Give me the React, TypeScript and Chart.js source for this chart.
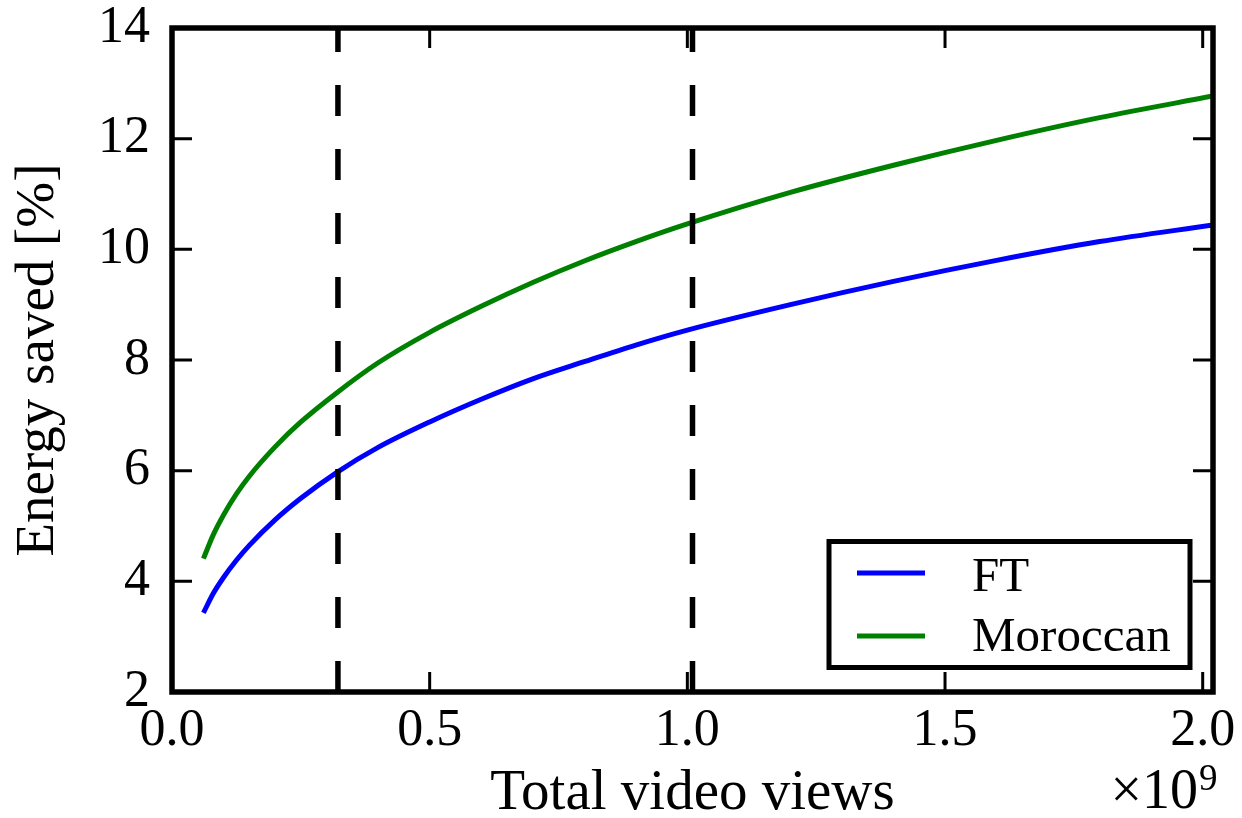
import React, { useEffect, useRef } from "react";
import { Chart, registerables } from "chart.js";

Chart.register(...registerables);

// ---- data (x in units of 10^9 views, y in %) ----
const xViews = [0.061, 0.08, 0.1, 0.125, 0.15, 0.2, 0.25, 0.32, 0.4, 0.5, 0.6, 0.7, 0.8, 0.9, 1.0, 1.2, 1.4, 1.6, 1.8, 2.02];
const ftSaved = [3.43, 3.78, 4.07, 4.38, 4.65, 5.11, 5.5, 5.97, 6.42, 6.88, 7.29, 7.66, 7.97, 8.27, 8.54, 9.0, 9.42, 9.8, 10.14, 10.44];
const moroccanSaved = [4.41, 4.84, 5.2, 5.58, 5.9, 6.43, 6.88, 7.41, 7.95, 8.5, 8.97, 9.4, 9.79, 10.14, 10.46, 11.03, 11.52, 11.97, 12.38, 12.77];
const markerViews = [0.322, 1.01];
const seriesLabels = ["FT", "Moroccan"];
const seriesColors = ["#0000ff", "#008000"];
const xTickValues = [0, 0.5, 1.0, 1.5, 2.0];
const yTickValues = [2, 4, 6, 8, 10, 12, 14];
const xRange = [0, 2.02];
const yRange = [2, 14];
const xTitle = "Total video views";
const yTitle = "Energy saved [%]";
const offsetBase = "\u00d710";
const offsetExp = "9";

const SERIF = '"Liberation Serif", "DejaVu Serif", serif';

const framePlugin = {
  id: "mplFrame",
  afterDatasetsDraw(chart: any) {
    const { ctx, chartArea: a, scales } = chart;
    ctx.save();
    // inward ticks on all four sides
    ctx.strokeStyle = "#000";
    ctx.lineWidth = 3;
    const tl = 20;
    scales.x.ticks.forEach((t: any) => {
      const px = scales.x.getPixelForValue(t.value);
      ctx.beginPath();
      ctx.moveTo(px, a.bottom);
      ctx.lineTo(px, a.bottom - tl);
      ctx.moveTo(px, a.top);
      ctx.lineTo(px, a.top + tl);
      ctx.stroke();
    });
    scales.y.ticks.forEach((t: any) => {
      const py = scales.y.getPixelForValue(t.value);
      ctx.beginPath();
      ctx.moveTo(a.left, py);
      ctx.lineTo(a.left + tl, py);
      ctx.moveTo(a.right, py);
      ctx.lineTo(a.right - tl, py);
      ctx.stroke();
    });
    // frame
    ctx.lineWidth = 5.5;
    ctx.strokeRect(a.left, a.top, a.right - a.left, a.bottom - a.top);

    // legend box
    const bw = 361;
    const bh = 126;
    const bx = a.right - 23 - bw;
    const by = a.bottom - 24.5 - bh;
    ctx.fillStyle = "#fff";
    ctx.fillRect(bx, by, bw, bh);
    ctx.strokeStyle = "#000";
    ctx.lineWidth = 5;
    ctx.strokeRect(bx, by, bw, bh);
    const items = chart.data.datasets.filter((d: any) => d.label);
    items.forEach((d: any, i: number) => {
      const ly = by + 31.5 + i * 63;
      ctx.strokeStyle = d.borderColor;
      ctx.lineWidth = 5;
      ctx.beginPath();
      ctx.moveTo(bx + 28, ly);
      ctx.lineTo(bx + 96, ly);
      ctx.stroke();
      ctx.fillStyle = "#000";
      ctx.font = `49px ${SERIF}`;
      ctx.textAlign = "left";
      ctx.textBaseline = "alphabetic";
      ctx.fillText(d.label, bx + 143, by + 49 + i * 60);
    });

    // offset text x10^9
    ctx.fillStyle = "#000";
    ctx.font = `56px ${SERIF}`;
    ctx.textAlign = "right";
    ctx.textBaseline = "alphabetic";
    ctx.fillText(offsetBase, a.right - 15, a.bottom + 116);
    ctx.font = `37px ${SERIF}`;
    ctx.textAlign = "left";
    ctx.fillText(offsetExp, a.right - 14, a.bottom + 98);
    ctx.restore();
  },
};

export default function App() {
  const ref = useRef<HTMLCanvasElement | null>(null);
  useEffect(() => {
    if (!ref.current) return;
    Chart.defaults.font.family = SERIF;
    Chart.defaults.color = "#000";
    const lineData = (ys: number[]) => xViews.map((x, i) => ({ x, y: ys[i] }));
    const markerSets = markerViews.map((m) => ({
      label: "",
      data: [
        { x: m, y: yRange[0] },
        { x: m, y: yRange[1] },
      ],
      borderColor: "#000",
      borderWidth: 5.5,
      borderDash: [31, 33],
      pointRadius: 0,
      tension: 0,
    }));
    const chart = new Chart(ref.current, {
      type: "line",
      data: {
        datasets: [
          ...markerSets,
          {
            label: seriesLabels[0],
            data: lineData(ftSaved),
            borderColor: seriesColors[0],
            borderWidth: 5,
            pointRadius: 0,
            cubicInterpolationMode: "monotone",
          },
          {
            label: seriesLabels[1],
            data: lineData(moroccanSaved),
            borderColor: seriesColors[1],
            borderWidth: 5,
            pointRadius: 0,
            cubicInterpolationMode: "monotone",
          },
        ],
      },
      options: {
        animation: false,
        responsive: false,
        layout: { padding: { top: 28, right: 29, left: 0, bottom: 0 } },
        plugins: {
          legend: { display: false },
          tooltip: { enabled: false },
        },
        scales: {
          x: {
            type: "linear",
            min: xRange[0],
            max: xRange[1],
            afterBuildTicks: (s: any) => {
              s.ticks = xTickValues.map((v) => ({ value: v }));
            },
            afterFit: (s: any) => {
              s.height = 126;
              s.paddingLeft = 0;
              s.paddingRight = 0;
            },
            grid: { display: false, drawTicks: false },
            border: { display: false },
            ticks: {
              padding: 8,
              maxRotation: 0,
              font: { size: 52 },
              color: "#000",
              callback: (v: any) => Number(v).toFixed(1),
            },
            title: {
              display: true,
              text: xTitle,
              font: { size: 57, lineHeight: 0.8 },
              padding: { top: 0, bottom: 1 },
              color: "#000",
            },
          },
          y: {
            type: "linear",
            min: yRange[0],
            max: yRange[1],
            afterBuildTicks: (s: any) => {
              s.ticks = yTickValues.map((v) => ({ value: v }));
            },
            afterFit: (s: any) => {
              s.width = 172;
              s.paddingTop = 0;
              s.paddingBottom = 0;
            },
            grid: { display: false, drawTicks: false },
            border: { display: false },
            ticks: {
              padding: 22,
              font: { size: 52 },
              color: "#000",
              callback: (v: any) => String(v),
            },
            title: {
              display: true,
              text: yTitle,
              font: { size: 55, lineHeight: 0.8 },
              padding: { top: 17, bottom: 0 },
              color: "#000",
            },
          },
        },
      },
      plugins: [framePlugin],
    } as any);
    return () => chart.destroy();
  }, []);
  return (
    <div style={{ position: "fixed", left: 0, top: 0, width: 1242, height: 818, background: "#fff" }}>
      <canvas ref={ref} width={1242} height={818} style={{ width: 1242, height: 818, display: "block" }} />
    </div>
  );
}
